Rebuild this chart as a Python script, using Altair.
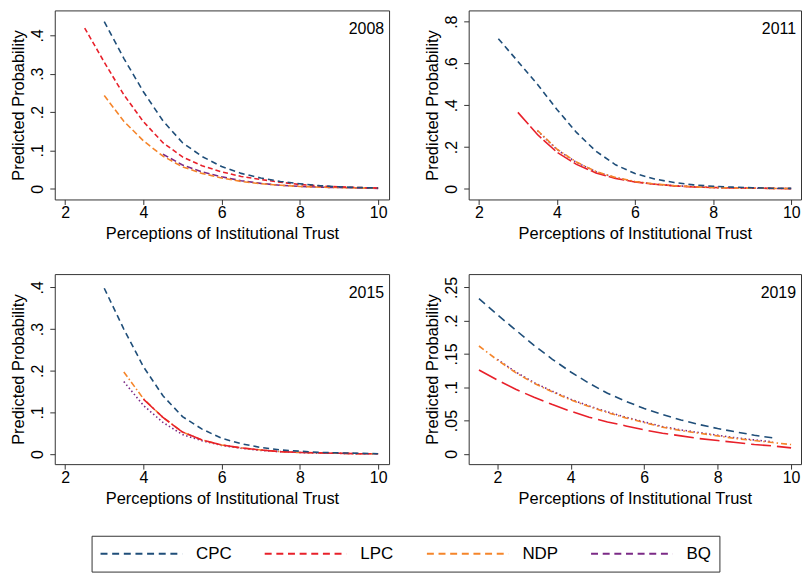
import altair as alt
import pandas as pd

FONT = "Liberation Sans"

parties = ["CPC", "LPC", "NDP", "BQ"]
party_colors = ["#1f4e79", "#e8202a", "#f5852a", "#7b2a86"]

# x values (trust) and predicted probabilities
x_2008_cpc = [3.0, 3.5, 4.0, 4.5, 5.0, 5.5, 6.0, 6.5, 7.0, 7.5, 8.0, 8.5, 9.0, 9.5, 10.0]
y_2008_cpc = [.436, .34, .253, .177, .12, .084, .058, .04, .028, .019, .013, .008, .005, .003, .002]
x_2008_lpc = [2.5, 3.0, 3.5, 4.0, 4.5, 5.0, 5.5, 6.0, 6.5, 7.0, 7.5, 8.0, 8.5, 9.0, 9.5, 10.0]
y_2008_lpc = [.419, .33, .245, .175, .12, .083, .06, .044, .032, .024, .017, .011, .007, .005, .003, .002]
x_2008_ndp = [3.0, 3.5, 4.0, 4.5, 5.0, 5.5, 6.0, 6.5, 7.0, 7.5, 8.0, 8.5, 9.0, 9.5, 10.0]
y_2008_ndp = [.243, .176, .125, .085, .057, .04, .028, .019, .013, .009, .006, .004, .003, .002, .001]
x_2008_bq = [4.5, 5.0, 5.5, 6.0, 6.5, 7.0, 7.5, 8.0, 8.5, 9.0, 9.5, 10.0]
y_2008_bq = [.09, .062, .044, .031, .021, .014, .009, .006, .004, .003, .002, .001]

x_2011_cpc = [2.5, 3.0, 3.5, 4.0, 4.5, 5.0, 5.5, 6.0, 6.5, 7.0, 7.5, 8.0, 8.5, 9.0, 9.5, 10.0]
y_2011_cpc = [.718, .61, .5, .38, .27, .18, .115, .073, .047, .03, .019, .012, .008, .005, .003, .002]
x_2011_lpc = [3.0, 3.5, 4.0, 4.5, 5.0, 5.5, 6.0, 6.5, 7.0, 7.5, 8.0, 8.5, 9.0, 9.5, 10.0]
y_2011_lpc = [.366, .26, .175, .117, .076, .05, .033, .022, .014, .009, .006, .004, .003, .002, .001]
x_2011_ndp = [3.5, 4.0, 4.5, 5.0, 5.5, 6.0, 6.5, 7.0, 7.5, 8.0, 8.5, 9.0, 9.5, 10.0]
y_2011_ndp = [.28, .19, .128, .083, .054, .035, .023, .015, .01, .006, .004, .003, .002, .001]
x_2011_bq = [3.5, 4.0, 4.5, 5.0, 5.5, 6.0, 6.5, 7.0, 7.5, 8.0, 8.5, 9.0, 9.5, 10.0]
y_2011_bq = [.278, .188, .126, .082, .053, .034, .022, .015, .01, .006, .004, .003, .002, .001]

x_2015_cpc = [3.0, 3.5, 4.0, 4.5, 5.0, 5.5, 6.0, 6.5, 7.0, 7.5, 8.0, 8.5, 9.0, 9.5, 10.0]
y_2015_cpc = [.398, .30, .21, .14, .09, .06, .038, .025, .016, .01, .007, .004, .003, .002, .001]
x_2015_lpc = [4.0, 4.5, 5.0, 5.5, 6.0, 6.5, 7.0, 7.5, 8.0, 8.5, 9.0, 9.5, 10.0]
y_2015_lpc = [.132, .088, .053, .034, .022, .015, .01, .006, .004, .003, .002, .001, .001]
x_2015_ndp = [3.5, 4.0, 4.5, 5.0, 5.5, 6.0, 6.5, 7.0, 7.5, 8.0, 8.5, 9.0, 9.5, 10.0]
y_2015_ndp = [.197, .133, .088, .053, .034, .022, .015, .01, .006, .004, .003, .002, .001, .001]
x_2015_bq = [3.5, 4.0, 4.5, 5.0, 5.5, 6.0, 6.5, 7.0, 7.5, 8.0, 8.5, 9.0, 9.5, 10.0]
y_2015_bq = [.174, .117, .076, .047, .032, .021, .014, .009, .006, .004, .002, .002, .001, .001]

x_2019_cpc = [1.5, 2.0, 2.5, 3.0, 3.5, 4.0, 4.5, 5.0, 5.5, 6.0, 6.5, 7.0, 7.5, 8.0, 8.5, 9.0, 9.5]
y_2019_cpc = [.233, .209, .186, .163, .142, .123, .106, .091, .079, .068, .059, .051, .044, .038, .033, .028, .024]
x_2019_lpc = [1.5, 2.0, 2.5, 3.0, 3.5, 4.0, 4.5, 5.0, 5.5, 6.0, 6.5, 7.0, 7.5, 8.0, 8.5, 9.0, 9.5, 10.0]
y_2019_lpc = [.126, .111, .097, .085, .074, .064, .055, .048, .042, .036, .031, .027, .023, .02, .017, .014, .012, .009]
x_2019_ndp = [1.5, 2.0, 2.5, 3.0, 3.5, 4.0, 4.5, 5.0, 5.5, 6.0, 6.5, 7.0, 7.5, 8.0, 8.5, 9.0, 9.5, 10.0]
y_2019_ndp = [.162, .141, .122, .106, .093, .081, .071, .062, .054, .047, .04, .035, .031, .027, .023, .02, .017, .014]
x_2019_bq = [2.0, 2.5, 3.0, 3.5, 4.0, 4.5, 5.0, 5.5, 6.0, 6.5, 7.0, 7.5, 8.0, 8.5, 9.0, 9.5]
y_2019_bq = [.142, .123, .107, .094, .082, .072, .063, .055, .048, .041, .036, .032, .028, .024, .021, .018]

style_names = ["dash", "dashS", "dashM", "long", "dashdot", "dot", "dash19", "long19", "dashdot19"]
style_dashes = [[6, 4], [5, 3], [6, 3], [16, 3], [6, 2.5, 1.5, 2.5], [1.5, 2.5], [8, 5], [20, 6], [6, 3, 1.5, 3]]

series = [
    # year, party, style, xs, ys   (drawing order)
    (2008, "BQ", "dashM", x_2008_bq, y_2008_bq),
    (2008, "NDP", "dashM", x_2008_ndp, y_2008_ndp),
    (2008, "LPC", "dashS", x_2008_lpc, y_2008_lpc),
    (2008, "CPC", "dash", x_2008_cpc, y_2008_cpc),
    (2011, "BQ", "dot", x_2011_bq, y_2011_bq),
    (2011, "LPC", "long", x_2011_lpc, y_2011_lpc),
    (2011, "NDP", "dashdot", x_2011_ndp, y_2011_ndp),
    (2011, "CPC", "dash", x_2011_cpc, y_2011_cpc),
    (2015, "BQ", "dot", x_2015_bq, y_2015_bq),
    (2015, "NDP", "dashdot", x_2015_ndp, y_2015_ndp),
    (2015, "LPC", "long", x_2015_lpc, y_2015_lpc),
    (2015, "CPC", "dash", x_2015_cpc, y_2015_cpc),
    (2019, "BQ", "dot", x_2019_bq, y_2019_bq),
    (2019, "NDP", "dashdot19", x_2019_ndp, y_2019_ndp),
    (2019, "LPC", "long19", x_2019_lpc, y_2019_lpc),
    (2019, "CPC", "dash19", x_2019_cpc, y_2019_cpc),
]

rows = []
for order, (yr, p, st, xs, ys) in enumerate(series):
    for xv, yv in zip(xs, ys):
        rows.append({"year": yr, "party": p, "style": st, "order": order, "trust": xv, "prob": yv})
df = pd.DataFrame(rows)

legend = alt.Legend(
    title=None, orient="none", legendX=37, legendY=528, direction="horizontal", columns=4,
    symbolType="stroke", symbolSize=6724, symbolStrokeWidth=2, symbolDash=[7, 4.7],
    clipHeight=20,
    labelFontSize=17, labelFont=FONT, labelColor="black", labelOffset=13, columnPadding=32,
    padding=8, strokeColor="#333", fillColor="white",
)


def panel(year, xdom, ydom, yticks, w, h):
    d = df[df.year == year]
    lines = alt.Chart(d).mark_line(strokeWidth=1.6).encode(
        x=alt.X("trust:Q", scale=alt.Scale(domain=xdom, nice=False, zero=False),
                axis=alt.Axis(values=[2, 4, 6, 8, 10], title="Perceptions of Institutional Trust",
                              titleY=39.5, titleBaseline="alphabetic", labelPadding=0)),
        y=alt.Y("prob:Q", scale=alt.Scale(domain=ydom, nice=False, zero=False),
                axis=alt.Axis(values=yticks, title="Predicted Probability",
                              labelExpr="replace(format(datum.value, '~g'), '0.', '.')",
                              labelAngle=270, labelAlign="center", labelBaseline="alphabetic",
                              labelPadding=7, titleAngle=270, titleBaseline="alphabetic",
                              titleAlign="center", titleX=-31, titleY=h / 2)),
        color=alt.Color("party:N", scale=alt.Scale(domain=parties, range=party_colors), legend=legend),
        strokeDash=alt.StrokeDash("style:N", scale=alt.Scale(domain=style_names, range=style_dashes), legend=None),
        order=alt.Order("order:Q"),
    )
    txt = alt.Chart(pd.DataFrame({"label": [str(year)]})).mark_text(
        align="right", baseline="alphabetic", fontSize=16, font=FONT, color="black"
    ).encode(text="label:N", x=alt.value(w - 5), y=alt.value(24))
    return alt.layer(lines, txt).properties(width=w, height=h)


p08 = panel(2008, [1.735, 10.28], [-0.028, 0.465], [0, .1, .2, .3, .4], 336, 190)
p11 = panel(2011, [1.74, 10.25], [-0.051, 0.854], [0, .2, .4, .6, .8], 334, 190)
p15 = panel(2015, [1.735, 10.28], [-0.024, 0.432], [0, .1, .2, .3, .4], 336, 191)
p19 = panel(2019, [1.22, 10.27], [-0.0154, 0.27], [0, .05, .1, .15, .2, .25], 334, 191)

chart = alt.concat(p08, p11, p15, p19, columns=2, spacing={"row": 75, "column": 80}, bounds="flush").properties(
    padding={"left": 2, "top": 0, "right": 0, "bottom": 0}
).configure_view(stroke="#333", strokeWidth=1).configure_axis(
    grid=False, domain=False, tickSize=5, tickColor="#333", labelFont=FONT, titleFont=FONT,
    labelFontSize=16, titleFontSize=16.5, titleFontWeight="normal", labelColor="black",
    titleColor="black", labelFlush=False, labelOverlap=False,
)

chart.save("out.html", embed_options={"renderer": "svg", "actions": False})
